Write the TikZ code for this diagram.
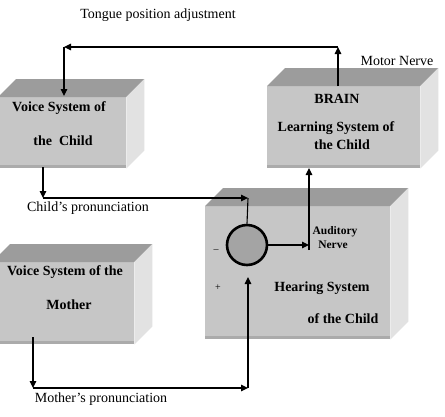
\documentclass[tikz,border=0pt]{standalone}
\usepackage{fontspec}
\setmainfont{Liberation Serif}
\usetikzlibrary{arrows.meta}
\definecolor{frontc}{HTML}{C6C6C6}
\definecolor{topc}{HTML}{9C9C9C}
\definecolor{sidec}{HTML}{E2E2E2}
\definecolor{shadec}{HTML}{ABABAB}
\definecolor{sumc}{HTML}{A4A4A4}
\newcommand\cubeboxfaces[1]{%
 \fill[topc] (#1.north west) -- ([shift={(18pt,18pt)}]#1.north west) -- ([shift={(18pt,18pt)}]#1.north east) -- (#1.north east) -- cycle;
 \fill[sidec] (#1.north east) -- ([shift={(18pt,18pt)}]#1.north east) -- ([shift={(18pt,18pt)}]#1.south east) -- (#1.south east) -- cycle;
 \fill[shadec] (#1.south west) rectangle ([yshift=3pt]#1.south east);
}
\begin{document}
\begin{tikzpicture}[x=1pt,y=-1pt,
 frontface/.style={rectangle, fill=frontc, draw=none, inner sep=0pt, anchor=north west},
 lbl/.style={inner sep=0pt, font=\fontsize{14}{16}\selectfont},
 blbl/.style={inner sep=0pt, font=\fontsize{14}{16}\selectfont\bfseries},
 slbl/.style={inner sep=0pt, font=\fontsize{11.5}{13}\selectfont\bfseries},
 sign/.style={inner sep=0pt, font=\fontsize{10}{12}\selectfont},
 arr/.style={line width=1.1pt, -{Triangle[length=7pt,width=6.5pt]}},
 wire/.style={line width=1.1pt}]
\useasboundingbox (0,0) rectangle (445,416);
\fill[white] (0,0) rectangle (445,416);

% boxes
\node[frontface, minimum width=128pt, minimum height=71pt] (child) at (-2,97) {};
\cubeboxfaces{child}
\node[frontface, minimum width=153pt, minimum height=82pt] (brain) at (267,86) {};
\cubeboxfaces{brain}
\node[frontface, minimum width=185pt, minimum height=133pt] (hear) at (205,206) {};
\cubeboxfaces{hear}
\node[frontface, minimum width=142pt, minimum height=82pt] (mother) at (-8,262) {};
\cubeboxfaces{mother}

% box texts
\node[blbl] (c1) at (59,108) {Voice System of};
\node[blbl] (c2) at (63,141) {the\ \ Child};
\node[blbl] (b1) at (337,99) {BRAIN};
\node[blbl] (b2) at (336,128) {Learning System of};
\node[blbl] (b3) at (342,145) {the Child};
\node[blbl] (h1) at (322,288) {Hearing System};
\node[blbl] (h2) at (343,319) {of the Child};
\node[blbl] (m1) at (65,272) {Voice System of the};
\node[blbl] (m2) at (69,305) {Mother};
\node[slbl] (a1) at (335,232) {Auditory};
\node[slbl] (a2) at (333,245) {Nerve};
\node[sign] (minus) at (216,251) {–};
\node[sign] (plus) at (218,288) {+};

% free labels
\node[lbl] (tongue) at (158,15) {Tongue position adjustment};
\node[lbl] (motor) at (397,61) {Motor Nerve};
\node[lbl] (cpron) at (88,208) {Child’s pronunciation};
\node[lbl] (mpron) at (101,399) {Mother’s pronunciation};

% summing junction
\node[circle, draw, line width=2.6pt, fill=sumc, minimum size=40pt, inner sep=0pt] (sum) at (247,245) {};

% coordinates
\coordinate (brtop) at (338,86);
\coordinate (tr) at (338,47);
\coordinate (tl) at (64,47);
\coordinate (chtop) at (64,96);
\coordinate (chbot) at (43,167);
\coordinate (cc) at (43,198);
\coordinate (cr) at (248,198);
\coordinate (mbot) at (33,337);
\coordinate (mc) at (33,388);
\coordinate (mr) at (248,388);
\coordinate (sumin) at (248,277);
\coordinate (nv) at (309,245);
\coordinate (nvb) at (309,250);
\coordinate (brbot) at (309,168);

% connectors
\draw[arr] (brtop) -- (tr);
\draw[arr] (tr) -- (tl);
\draw[arr] (tl) -- (chtop);
\draw[arr] (chbot) -- (cc);
\draw[arr] (cc) -- (cr);
\draw[wire] (cr) -- (sum.north);
\draw[arr] (mbot) -- (mc);
\draw[arr] (mc) -- (mr);
\draw[arr] (mr) -- (sumin);
\draw[arr] (sum.east) -- (nv);
\draw[arr] (nvb) -- (brbot);
\end{tikzpicture}
\end{document}
